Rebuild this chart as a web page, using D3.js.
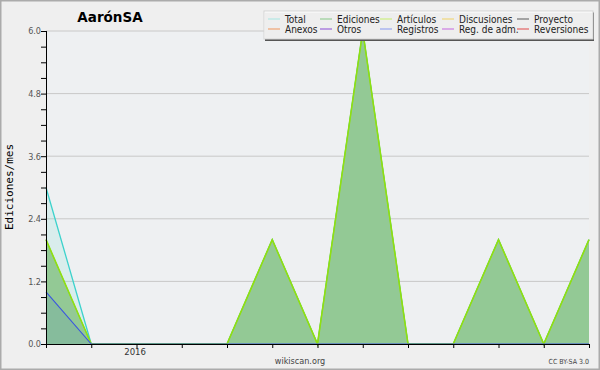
<!DOCTYPE html>
<html>
<head>
<meta charset="utf-8">
<script src="https://cdn.jsdelivr.net/npm/d3@7"></script>
<style>
  body { margin: 0; background: #fff; }
  svg { display: block; font-family: "DejaVu Sans", sans-serif; }
</style>
</head>
<body>
<svg width="600" height="370"></svg>
<script>
// monthly values, Nov 2015 .. Nov 2016
var months = ['2015-11', '2015-12', '2016-01', '2016-02', '2016-03', '2016-04', '2016-05',
              '2016-06', '2016-07', '2016-08', '2016-09', '2016-10', '2016-11'];
var total     = [3, 0, 0, 0, 0, 2, 0, 6, 0, 0, 2, 0, 2];
var ediciones = [2, 0, 0, 0, 0, 2, 0, 6, 0, 0, 2, 0, 2];
var articulos = [2, 0, 0, 0, 0, 2, 0, 6, 0, 0, 2, 0, 2];
var registros = [1, 0, 0, 0, 0, 0, 0, 0, 0, 0, 0, 0, 0];

var yTicks = [0, 1.2, 2.4, 3.6, 4.8, 6.0];
var xLabels = [{month: '2016-01', text: '2016'}];

var legendNames = ['Total', 'Ediciones', 'Artículos', 'Discusiones', 'Proyecto',
                   'Anexos', 'Otros', 'Registros', 'Reg. de adm.', 'Reversiones'];
var legendColors = ['#a6e6e2', '#86c886', '#c6ee6a', '#f0d264', '#5a5a5a',
                    '#f0955a', '#8a4ad6', '#8898f0', '#c466e0', '#e04848'];

var svg = d3.select('svg');
var svgWidth = +svg.attr('width');
var svgHeight = +svg.attr('height');

var padding = {t: 31, r: 11, b: 26, l: 46};
var chartWidth = svgWidth - padding.l - padding.r;
var chartHeight = svgHeight - padding.t - padding.b;

// background and frame
svg.append('rect')
    .attr('x', 0).attr('y', 0)
    .attr('width', svgWidth).attr('height', svgHeight)
    .attr('fill', '#efefef');
svg.append('rect')
    .attr('x', 0.75).attr('y', 0.75)
    .attr('width', svgWidth - 1.5).attr('height', svgHeight - 1.5)
    .attr('fill', 'none')
    .attr('stroke', '#ababab')
    .attr('stroke-width', 1.5);

var chartG = svg.append('g')
    .attr('transform', 'translate(' + [padding.l, padding.t] + ')');

chartG.append('rect')
    .attr('width', chartWidth).attr('height', chartHeight)
    .attr('fill', '#eef0f2');

var xScale = d3.scalePoint()
    .domain(months)
    .range([0, chartWidth]);

var yScale = d3.scaleLinear()
    .domain([0, 6])
    .range([chartHeight, 0]);

// grid lines
chartG.selectAll('.grid')
    .data(yTicks.filter(d => d > 0))
    .enter().append('line')
    .attr('class', 'grid')
    .attr('x1', 0).attr('x2', chartWidth)
    .attr('y1', d => yScale(d)).attr('y2', d => yScale(d))
    .attr('stroke', '#c8c8c8')
    .attr('stroke-width', 1);

function areaOf(values) {
    return d3.area()
        .x((d, i) => xScale(months[i]))
        .y0(chartHeight)
        .y1(d => yScale(d))(values);
}
function lineOf(values) {
    return d3.line()
        .x((d, i) => xScale(months[i]))
        .y(d => yScale(d))(values);
}

// Total
chartG.append('path')
    .attr('d', areaOf(total))
    .attr('fill', 'rgba(120, 225, 210, 0.18)');
chartG.append('path')
    .attr('d', lineOf(total))
    .attr('fill', 'none')
    .attr('stroke', '#3cd2cc')
    .attr('stroke-width', 1.3);

// Ediciones
chartG.append('path')
    .attr('d', areaOf(ediciones))
    .attr('fill', '#93c995');
chartG.append('path')
    .attr('d', lineOf(ediciones))
    .attr('fill', 'none')
    .attr('stroke', '#6cbf6c')
    .attr('stroke-width', 1);

// Artículos
chartG.append('path')
    .attr('d', lineOf(articulos))
    .attr('fill', 'none')
    .attr('stroke', '#90e010')
    .attr('stroke-width', 1.6);

// Registros
chartG.append('path')
    .attr('d', areaOf(registros))
    .attr('fill', 'rgba(60, 110, 200, 0.14)');
chartG.append('path')
    .attr('d', lineOf(registros))
    .attr('fill', 'none')
    .attr('stroke', '#3a55e0')
    .attr('stroke-width', 1.1);

// axes
var yAxis = d3.axisLeft(yScale)
    .tickValues(d3.range(0, 6.01, 0.3))
    .tickSize(5)
    .tickFormat(d => {
        var r = Math.round(d * 10) / 10;
        return yTicks.some(t => Math.abs(t - r) < 1e-6) && Math.abs(d - r) < 1e-6 ? r.toFixed(1) : '';
    });
var yAxisG = chartG.append('g').call(yAxis);
yAxisG.select('.domain').attr('stroke', '#000').attr('d', 'M0.5,0V' + chartHeight);
yAxisG.selectAll('.tick line').attr('stroke', '#000');
yAxisG.selectAll('.tick text')
    .attr('x', -5)
    .attr('fill', '#555')
    .style('font-size', '9px')
    .style('font-family', '"DejaVu Sans Condensed", "DejaVu Sans", sans-serif');

var xAxis = d3.axisBottom(xScale)
    .tickSize(4)
    .tickFormat(m => {
        var l = xLabels.find(e => e.month === m);
        return l ? l.text : '';
    });
var xAxisG = chartG.append('g')
    .attr('transform', 'translate(0,' + chartHeight + ')')
    .call(xAxis);
xAxisG.select('.domain').attr('stroke', '#000').attr('d', 'M0,0.5H' + chartWidth);
xAxisG.selectAll('.tick line').attr('stroke', '#000');
xAxisG.selectAll('.tick text')
    .attr('y', 4)
    .attr('dx', '-0.2em')
    .attr('fill', '#333')
    .style('font-size', '9.5px')
    .style('font-family', '"DejaVu Sans Condensed", "DejaVu Sans", sans-serif');

// title and labels
svg.append('text')
    .attr('x', 110).attr('y', 22)
    .attr('text-anchor', 'middle')
    .style('font-size', '13.5px')
    .style('font-weight', 'bold')
    .text('AarónSA');

svg.append('text')
    .attr('transform', 'translate(13,' + 187 + ') rotate(-90)')
    .attr('text-anchor', 'middle')
    .style('font-size', '11px')
    .style('font-family', '"DejaVu Sans Mono", monospace')
    .text('Ediciones/mes');

svg.append('text')
    .attr('x', 300).attr('y', 364)
    .attr('text-anchor', 'middle')
    .attr('fill', '#444')
    .style('font-size', '9px')
    .style('font-family', '"DejaVu Sans Condensed", "DejaVu Sans", sans-serif')
    .text('wikiscan.org');

svg.append('text')
    .attr('x', 589).attr('y', 364)
    .attr('text-anchor', 'end')
    .attr('fill', '#444')
    .style('font-size', '7px')
    .style('font-family', '"DejaVu Sans Condensed", "DejaVu Sans", sans-serif')
    .text('CC BY-SA 3.0');

// legend
var legendG = svg.append('g').attr('transform', 'translate(264,11)');
legendG.append('rect')
    .attr('x', 1).attr('y', 1.5)
    .attr('width', 329).attr('height', 28.5)
    .attr('fill', '#555');
legendG.append('rect')
    .attr('x', 0).attr('y', 0)
    .attr('width', 329).attr('height', 28)
    .attr('fill', 'rgba(255,255,255,0.9)')
    .attr('stroke', '#d4d4d4');

var colX = [4, 56, 116, 178, 253];
var items = legendG.selectAll('.item')
    .data(legendNames)
    .enter().append('g')
    .attr('class', 'item')
    .attr('transform', (d, i) => 'translate(' + colX[i % 5] + ',' + (i < 5 ? 8 : 18) + ')');
items.append('line')
    .attr('x1', 0).attr('x2', 12)
    .attr('stroke', (d, i) => legendColors[i])
    .attr('stroke-width', 1);
items.append('text')
    .attr('x', 17)
    .attr('dy', '0.35em')
    .attr('fill', '#222')
    .style('font-size', '10px')
    .style('font-family', '"DejaVu Sans Condensed", "DejaVu Sans", sans-serif')
    .text(d => d);
</script>
</body>
</html>
